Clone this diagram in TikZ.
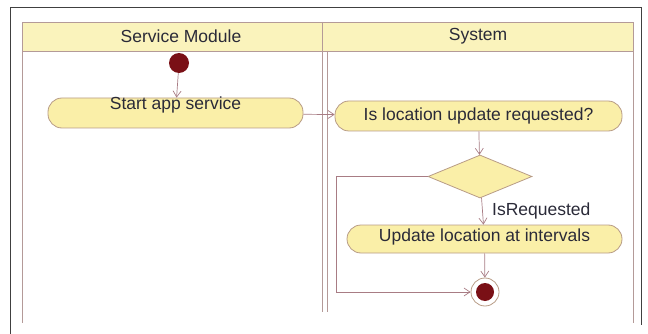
\documentclass[tikz,border=0pt]{standalone}
\usepackage{fontspec}
\setmainfont{Liberation Sans}
\usepackage{tikz}
\usepackage{xcolor}
\usetikzlibrary{positioning,shapes,arrows.meta}
\definecolor{lanefill}{HTML}{FAF3BC}
\definecolor{actfill}{HTML}{FAEFA8}
\definecolor{lanedraw}{HTML}{B49A98}
\definecolor{actdraw}{HTML}{B89C86}
\definecolor{flowdraw}{HTML}{A87C84}
\definecolor{dotred}{HTML}{7A1016}
\definecolor{txt}{HTML}{2A2A38}

\begin{document}
\begin{tikzpicture}[x=1pt,y=-1pt,
  every node/.style={text=txt,font=\fontsize{17.5}{20}\selectfont},
  act/.style={draw=actdraw,fill=actfill,rounded corners=14pt,line width=0.8pt,inner ysep=0pt},
  decide/.style={draw=actdraw,fill=actfill,diamond,aspect=2.4,minimum width=104pt,minimum height=43pt,inner sep=0pt,line width=0.8pt},
  flow/.style={draw=flowdraw,line width=0.7pt,-{Straight Barb[length=6pt,width=8pt]}},
  lane/.style={draw=lanedraw,line width=0.8pt}]
\useasboundingbox (0,0) rectangle (648,334);
% frame
\draw [black!75,line width=0.8pt] (10,334) -- (10,7) -- (641,7) -- (641,325);
% swimlanes
\draw [lane,fill=lanefill] (22,22) rectangle (633,51);
\draw [lane] (22,51) -- (22,323);
\draw [lane] (322,22) -- (322,312);
\draw [lane] (327,51) -- (327,312);
\draw [lane] (633,51) -- (633,323);
\node (svc) at (181,36) {Service Module};
\node (sys) at (478,36) {System};
% activities
\node [fill=dotred,circle,minimum size=20pt,inner sep=0pt] (init) at (179,63) {};
\node [act,minimum width=255pt,minimum height=30pt,text height=12pt,text depth=18pt] (appsvc) at (175.5,113) {Start app service};
\node [act,minimum width=287pt,minimum height=30pt] (ask) at (478.5,116) {Is location update requested?};
\node [decide] (check) at (480,176.5) {};
\node [act,minimum width=275pt,minimum height=28pt,text height=12pt,text depth=8pt] (upd) at (484.5,239) {Update location at intervals\hspace{16pt}};
\node [draw=actdraw,fill=white,circle,minimum size=28pt,inner sep=0pt,line width=0.8pt] (fin) at (485,292) {};
\node [fill=dotred,circle,minimum size=18pt,inner sep=0pt] at (fin) {};
\coordinate (bend) at (336,176.5);
% flows
\draw [flow] (init) -- (appsvc);
\draw [flow] (appsvc) -- (ask);
\draw [flow] (ask) -- (check);
\draw [flow] (check) -- node [right=6pt] {IsRequested} (upd);
\draw [flow] (upd) -- (fin);
\draw [flow] (check.west) -- (bend) |- (fin.west);
\end{tikzpicture}
\end{document}
